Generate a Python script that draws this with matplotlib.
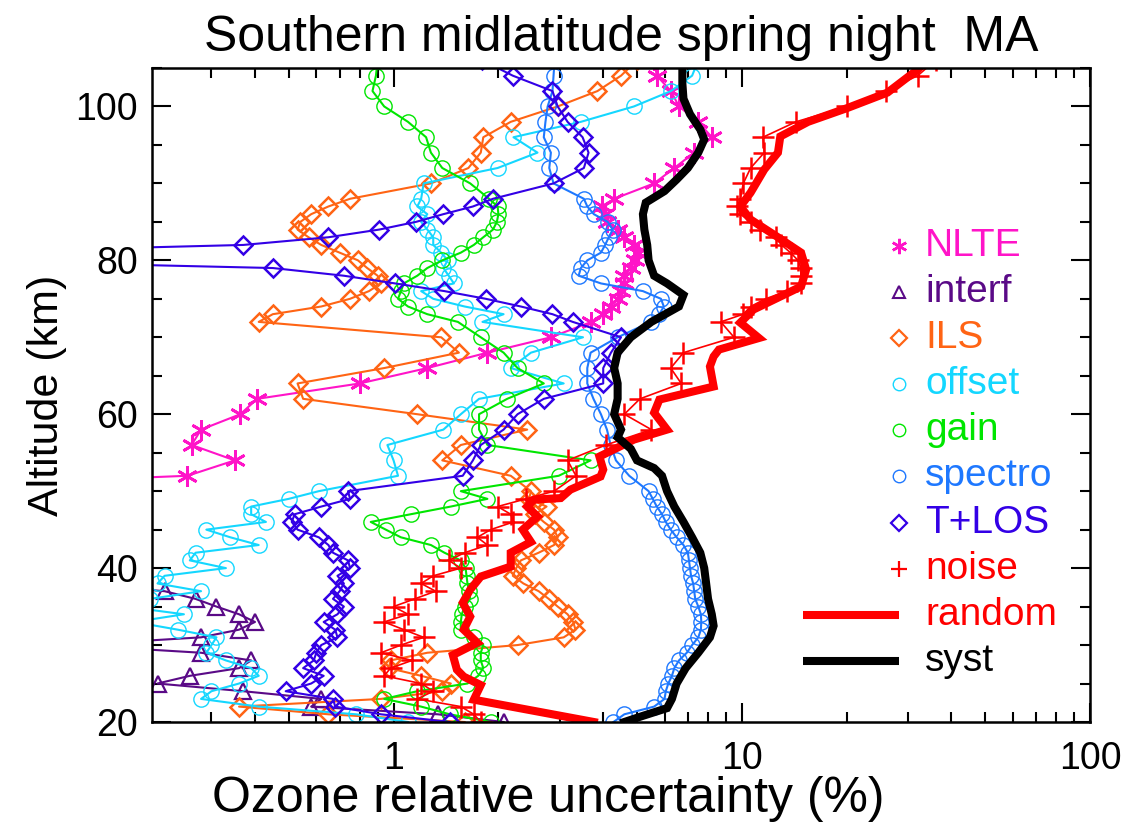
import numpy as np
import matplotlib
matplotlib.use("Agg")
import matplotlib.pyplot as plt
from matplotlib.ticker import FixedLocator, NullFormatter, LogLocator

plt.rcParams['font.family'] = ['Liberation Sans', 'DejaVu Sans']

# altitude grid of the retrieval (km)
alt_grid = np.r_[np.arange(20, 51), np.arange(52, 73, 2), np.arange(73, 89), np.arange(90, 107, 2)]

# ---- error components (% relative uncertainty) ----
nlte_alt = [50, 52, 54, 56, 58, 60, 62, 64, 66, 68, 70, 72, 73, 74, 75, 76, 77, 78, 79, 80, 81,
            82, 83, 84, 85, 86, 87, 88, 90, 92, 94, 96, 98, 100, 102, 104, 106]
nlte = [0.02, 0.256, 0.35, 0.263, 0.28, 0.363, 0.406, 0.80, 1.25, 1.86, 2.83, 3.7, 4.0, 4.2, 4.4,
        4.5, 4.6, 4.6, 4.8, 4.95, 5.05, 4.9, 4.6, 4.4, 4.1, 4.05, 3.97, 4.3, 5.6, 6.4, 7.3, 8.2,
        7.5, 6.6, 6.26, 5.7, 5.6]

interf_alt = [20, 21, 22, 23, 24, 25, 26, 27, 28, 29, 30, 31, 32, 33, 34, 35, 36, 37, 38]
interf = [2.07, 1.34, 0.58, 0.62, 0.37, 0.21, 0.26, 0.36, 0.39, 0.28, 0.12, 0.28, 0.36, 0.40,
          0.36, 0.31, 0.27, 0.22, 0.12]

ils = [1.6, 0.65, 0.36, 0.92, 1.38, 1.46, 1.2, 0.97, 0.98, 1.25, 2.27, 3.08, 3.33, 3.28, 3.16,
       2.96, 2.79, 2.61, 2.36, 2.2, 2.25, 2.32, 2.61, 2.89, 2.96, 2.89, 2.7, 2.55, 2.75, 2.45, 2.48,
       2.17, 1.38, 1.56, 2.42, 1.17, 0.55, 0.53, 0.94, 1.54, 1.37, 0.41,
       0.45, 0.62, 0.75, 0.85, 0.92, 0.90, 0.84, 0.79, 0.70, 0.62, 0.57, 0.53, 0.54, 0.58, 0.65, 0.75,
       1.28, 1.64, 1.78, 1.81, 2.17, 2.96, 3.85, 4.5, 5.0]

offset = [1.1, 0.78, 0.41, 0.28, 0.30, 0.36, 0.41, 0.39, 0.33, 0.29, 0.30, 0.31, 0.24, 0.18, 0.25,
          0.17, 0.20, 0.28, 0.21, 0.22, 0.33, 0.26, 0.27, 0.41, 0.34, 0.29, 0.43, 0.39, 0.39, 0.50, 0.61,
          1.03, 1.0, 0.96, 1.39, 1.56, 1.76, 3.08, 2.17, 2.48, 3.5, 1.80,
          2.07, 1.6, 1.3, 1.2, 1.49, 1.44, 1.39, 1.43, 1.37, 1.3, 1.3, 1.25, 1.2, 1.25, 1.17, 1.2,
          1.22, 1.99, 2.59, 2.21, 3.45, 4.9, 6.26, 7.2, 7.5]

gain = [1.90, 1.45, 1.2, 0.94, 1.17, 1.63, 1.75, 1.81, 1.78, 1.78, 1.81, 1.7, 1.56, 1.56, 1.57,
        1.6, 1.66, 1.65, 1.63, 1.62, 1.61, 1.56, 1.4, 1.28, 1.05, 0.95, 0.86, 1.12, 1.46, 1.86, 1.56,
        2.98, 3.68, 1.86, 1.76, 1.76, 2.12, 2.7, 2.27, 2.07, 1.78, 1.53,
        1.25, 1.10, 1.03, 1.05, 1.07, 1.17, 1.25, 1.38, 1.56, 1.70, 1.81, 1.93, 1.98, 2.0, 1.99, 1.88,
        1.66, 1.38, 1.28, 1.24, 1.10, 0.94, 0.87, 0.89, 0.9]

spectro = [4.28, 4.6, 5.6, 6.0, 6.05, 6.15, 6.3, 6.4, 6.6, 6.95, 7.2, 7.5, 7.63, 7.65, 7.63,
           7.5, 7.35, 7.3, 7.25, 7.15, 7.1, 7.05, 7.0, 6.8, 6.5, 6.25, 6.05, 5.9, 5.7, 5.55, 5.4,
           4.75, 4.35, 4.2, 4.1, 3.94, 3.75, 3.6, 3.6, 3.68, 4.4, 5.48,
           5.8, 5.97, 5.86, 5.2, 3.94, 3.4, 3.45, 3.6, 3.94, 4.05, 4.15, 4.26, 4.12, 3.76, 3.6, 3.52,
           2.88, 2.8, 2.83, 2.7, 2.73, 2.77, 2.86, 2.88, 2.9]

tlos = [1.45, 0.92, 0.68, 0.67, 0.49, 0.58, 0.63, 0.55, 0.59, 0.60, 0.62, 0.69, 0.68, 0.63, 0.69,
        0.72, 0.67, 0.70, 0.72, 0.69, 0.75, 0.74, 0.67, 0.65, 0.61, 0.53, 0.51, 0.52, 0.62, 0.75, 0.74,
        1.58, 1.69, 1.78, 2.07, 2.27, 2.7, 4.0, 4.0, 4.21, 4.5, 3.27,
        2.86, 2.32, 1.84, 1.4, 1.01, 0.72, 0.45, 0.05, 0.05, 0.37, 0.65, 0.91, 1.16, 1.39, 1.69, 1.93,
        2.88, 3.52, 3.63, 3.49, 3.16, 2.96, 2.86, 2.2, 1.8]

noise = [1.78, 1.7, 1.56, 1.17, 1.3, 1.2, 0.94, 0.98, 1.13, 0.92, 1.05, 1.22, 1.07, 0.94, 1.1,
         1.0, 1.15, 1.32, 1.2, 1.3, 1.56, 1.44, 1.6, 1.86, 1.74, 1.9, 2.21, 2.17, 1.99, 2.4, 2.89,
         3.34, 3.16, 4.07, 5.5, 4.6, 5.1, 6.7, 6.25, 6.8, 9.5, 8.7,
         10.1, 10.6, 11.7, 13.5, 14.8, 14.8, 14.8, 14.5, 13.8, 13.0, 12.5, 11.3, 10.6, 9.9, 9.7, 9.9,
         10.1, 10.6, 11.6, 11.5, 14.3, 20.1, 25.9, 32, 36]

random_alt = [20, 22.9, 24.8, 25.9, 26.8, 28.7, 30.3, 32, 33.7, 35.5, 37.2, 38.9, 40.2, 42, 43.4,
              45, 46.7, 48, 48.9, 49.1, 50.2, 51.9, 52.8, 54.5, 56.7, 58, 60.2, 61.9, 63.6, 66.2,
              67.5, 68.4, 69.9, 71.9, 73.6, 76.6, 78.8, 81, 83, 85.3, 87, 88.8, 91.8, 94, 96.1,
              98, 99.8, 101.8, 104.8, 106]
random_err = [3.76, 1.70, 1.78, 1.59, 1.52, 1.48, 1.74, 1.59, 1.66, 1.58, 1.66, 1.78, 2.17, 2.17,
              2.48, 2.35, 2.59, 2.42, 2.53, 3.02, 3.22, 3.93, 4.0, 3.9, 4.9, 6.1, 5.6, 5.8, 8.3, 8.1,
              8.3, 8.6, 11.2, 9.9, 10.8, 14.8, 15.3, 14.8, 12.7, 10.6, 9.9, 10.6, 11.6, 12.7, 12.9,
              15.5, 20.1, 26.2, 32, 34]

syst_alt = [20, 20.8, 21.8, 23, 25, 27, 29, 31, 32.5, 34, 36, 38, 40, 42, 44, 46, 48, 50, 52, 53,
            54, 55.5, 57, 58, 59, 60, 62, 64, 66, 68, 70, 72, 74, 75.5, 77, 78, 80, 82, 84, 86,
            87.5, 89, 90.5, 92, 94, 95.7, 97, 99, 101, 103, 106]
syst = [4.6, 5.2, 6.1, 6.3, 6.5, 6.9, 7.5, 8.1, 8.3, 8.2, 8.0, 7.9, 7.8, 7.6, 7.2, 6.8, 6.4, 6.1,
        5.9, 5.6, 5.0, 4.8, 4.4, 4.5, 4.4, 4.3, 4.4, 4.4, 4.3, 4.4, 4.8, 5.5, 6.6, 6.8, 6.1, 5.6,
        5.4, 5.35, 5.25, 5.2, 5.3, 6.0, 6.5, 7.0, 7.5, 7.8, 7.6, 7.1, 6.8, 6.75, 6.75]

c_nlte = '#FF14C8'
c_interf = '#5A0A87'
c_ils = '#FF6414'
c_offset = '#14D7FF'
c_gain = '#00E600'
c_spectro = '#1E78FF'
c_tlos = '#3300E6'
c_noise = '#FF0000'

fig = plt.figure(figsize=(11.27, 8.24), dpi=100)
ax = fig.add_axes([0.1349, 0.1238, 0.8323, 0.7937])

lw = 1.5
ax.plot(nlte, nlte_alt, color=c_nlte, lw=lw, marker=(6, 2, 0), ms=15, mew=2)
ax.plot(interf, interf_alt, color=c_interf, lw=lw, marker='^', ms=11, mfc='none', mew=1.6)
ax.plot(ils, alt_grid, color=c_ils, lw=lw, marker='D', ms=9, mfc='none', mew=1.8)
ax.plot(offset, alt_grid, color=c_offset, lw=lw, marker='o', ms=11, mfc='none', mew=1)
ax.plot(gain, alt_grid, color=c_gain, lw=lw, marker='o', ms=11, mfc='none', mew=1)
ax.plot(spectro, alt_grid, color=c_spectro, lw=lw, marker='o', ms=11, mfc='none', mew=1)
ax.plot(tlos, alt_grid, color=c_tlos, lw=lw, marker='D', ms=9, mfc='none', mew=1.8)
ax.plot(noise, alt_grid, color=c_noise, lw=1.2, marker='+', ms=16, mew=1.8)
ax.plot(random_err, random_alt, color=c_noise, lw=5.8, solid_joinstyle='miter')
ax.plot(syst, syst_alt, color='black', lw=5.8, solid_joinstyle='miter')

ax.set_xscale('log')
ax.set_xlim(0.2025, 100)
ax.set_ylim(20, 105)

ax.xaxis.set_major_locator(FixedLocator([1, 10, 100]))
ax.xaxis.set_minor_locator(LogLocator(base=10, subs=np.arange(2, 10)))
ax.xaxis.set_minor_formatter(NullFormatter())
ax.set_xticklabels(['1', '10', '100'])
ax.set_yticks([20, 40, 60, 80, 100])
ax.set_yticks(np.arange(20, 106, 5), minor=True)

ax.tick_params(which='both', direction='in', top=True, right=True, width=1.5, labelsize=27)
ax.tick_params(which='major', length=14)
ax.tick_params(which='minor', length=7)
ax.tick_params(axis='x', which='major', pad=14)
ax.tick_params(axis='y', which='major', pad=10)
for s in ax.spines.values():
    s.set_linewidth(1.8)

ax.set_title('Southern midlatitude spring night  MA', fontsize=36, pad=12)
fig.text(548 / 1127, 1 - 812 / 824, 'Ozone relative uncertainty (%)', fontsize=36,
         ha='center', va='baseline')
ax.set_ylabel('Altitude (km)', fontsize=31, labelpad=6)

# legend drawn by hand (markers + coloured labels)
entries = [('NLTE', c_nlte, dict(marker=(6, 2, 0), ms=11, mew=1.8)),
           ('interf', c_interf, dict(marker='^', ms=9, mfc='none', mew=1.5)),
           ('ILS', c_ils, dict(marker='D', ms=8, mfc='none', mew=1.6)),
           ('offset', c_offset, dict(marker='o', ms=9, mfc='none', mew=1)),
           ('gain', c_gain, dict(marker='o', ms=9, mfc='none', mew=1)),
           ('spectro', c_spectro, dict(marker='o', ms=9, mfc='none', mew=1)),
           ('T+LOS', c_tlos, dict(marker='D', ms=8, mfc='none', mew=1.6)),
           ('noise', c_noise, dict(marker='+', ms=12, mew=1.6)),
           ('random', c_noise, None),
           ('syst', 'black', None)]
x_mark, x_text, x_line0 = 0.796, 0.824, 0.694
y0, dy = 0.728, 0.0705
for i, (lab, col, mk) in enumerate(entries):
    yy = y0 - i * dy
    if mk is None:
        ax.plot([x_line0, x_mark], [yy, yy], color=col, lw=5.8, transform=ax.transAxes,
                solid_capstyle='butt')
    else:
        ax.plot([x_mark], [yy], color=col, ls='none', transform=ax.transAxes, **mk)
    ax.text(x_text, yy, lab, color=col, fontsize=28, transform=ax.transAxes,
            ha='left', va='center')

fig.savefig('out.png', dpi=100)
